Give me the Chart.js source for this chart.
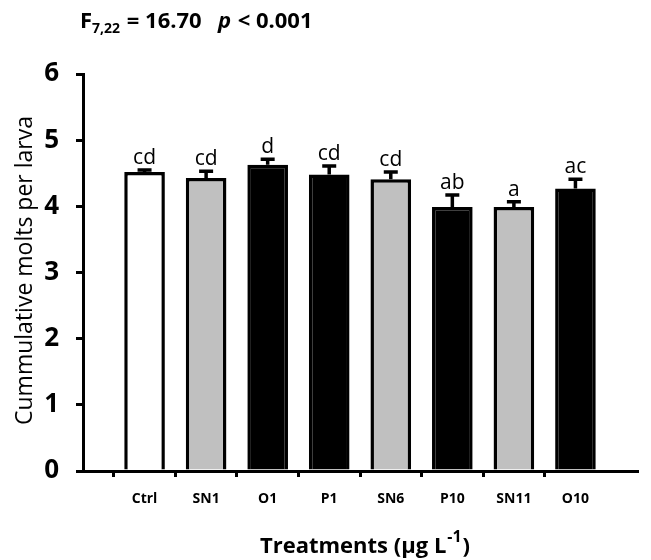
<!DOCTYPE html>
<html>
<head>
<meta charset="utf-8">
<script src="https://cdn.jsdelivr.net/npm/chart.js@4/dist/chart.umd.min.js"></script>
<style>
  html, body { margin: 0; padding: 0; background: #fff; }
  #wrap { width: 651px; height: 560px; }
</style>
</head>
<body>
<div id="wrap"><canvas id="molts" width="651" height="560"></canvas></div>
<script>
// Datos
const categories = ['Ctrl', 'SN1', 'O1', 'P1', 'SN6', 'P10', 'SN11', 'O10'];
const means = [4.52, 4.43, 4.63, 4.48, 4.41, 3.99, 3.99, 4.27];
const errors = [0.03, 0.10, 0.08, 0.13, 0.11, 0.18, 0.08, 0.14];
const letters = ['cd', 'cd', 'd', 'cd', 'cd', 'ab', 'a', 'ac'];
const fills = ['#ffffff', '#c0c0c0', '#000000', '#000000', '#c0c0c0', '#000000', '#c0c0c0', '#000000'];
const yTicks = [0, 1, 2, 3, 4, 5, 6];

const FONT = '"Open Sans", "Noto Sans", sans-serif';

// se añade un hueco vacío a cada lado, como en el original
const labels = ['', ...categories, ''];
const values = [null, ...means, null];
const colors = ['#fff', ...fills, '#fff'];

// Barras de error, letras y títulos
const extrasPlugin = {
    id: 'extras',
    afterDatasetsDraw(chart) {
        const ctx = chart.ctx;
        const x = chart.scales.x;
        const y = chart.scales.y;

        ctx.save();
        ctx.strokeStyle = '#000';
        ctx.lineWidth = 3.5;
        categories.forEach((c, i) => {
            const px = x.getPixelForValue(i + 1);
            const top = y.getPixelForValue(means[i]);
            const eTop = y.getPixelForValue(means[i] + errors[i]);
            ctx.beginPath();
            ctx.moveTo(px, top);
            ctx.lineTo(px, eTop);
            ctx.moveTo(px - 7, eTop);
            ctx.lineTo(px + 7, eTop);
            ctx.stroke();

            ctx.fillStyle = '#000';
            ctx.font = '21px ' + FONT;
            ctx.textAlign = 'center';
            ctx.textBaseline = 'alphabetic';
            ctx.fillText(letters[i], px, eTop - 6);
        });

        // título del eje Y
        ctx.font = '23px ' + FONT;
        ctx.textAlign = 'center';
        ctx.textBaseline = 'middle';
        ctx.translate(25, (chart.chartArea.top + chart.chartArea.bottom) / 2 - 2);
        ctx.rotate(-Math.PI / 2);
        ctx.fillText('Cummulative molts per larva', 0, 0);
        ctx.setTransform(1, 0, 0, 1, 0, 0);

        // título del eje X con superíndice
        ctx.textAlign = 'left';
        ctx.textBaseline = 'alphabetic';
        const main = 'Treatments (\u00b5g L';
        ctx.font = 'bold 22px ' + FONT;
        const w1 = ctx.measureText(main).width;
        ctx.font = 'bold 16px ' + FONT;
        const w2 = ctx.measureText('-1').width;
        ctx.font = 'bold 22px ' + FONT;
        const w3 = ctx.measureText(')').width;
        let sx = 364 - (w1 + w2 + w3) / 2;
        const base = 553;
        ctx.fillText(main, sx, base);
        ctx.font = 'bold 16px ' + FONT;
        ctx.fillText('-1', sx + w1 + 1, base - 11);
        ctx.font = 'bold 22px ' + FONT;
        ctx.fillText(')', sx + w1 + w2 + 2, base);

        // estadístico en la parte superior
        let tx = 80;
        const tb = 28;
        ctx.font = 'bold 22px ' + FONT;
        ctx.fillText('F', tx, tb);
        tx += ctx.measureText('F').width;
        ctx.font = 'bold 14px ' + FONT;
        ctx.fillText('7,22', tx, tb + 5);
        tx += ctx.measureText('7,22').width + 1;
        ctx.font = 'bold 22px ' + FONT;
        ctx.fillText(' = 16.70', tx, tb);
        ctx.font = 'bold italic 22px ' + FONT;
        ctx.fillText('p', 218, tb);
        ctx.font = 'bold 22px ' + FONT;
        ctx.fillText(' < 0.001', 218 + ctx.measureText('p').width, tb);
        ctx.restore();
    }
};

function initMoltsChart() {
    const el = document.getElementById('molts');
    new Chart(el.getContext('2d'), {
        type: 'bar',
        data: {
            labels: labels,
            datasets: [{
                data: values,
                backgroundColor: colors,
                borderColor: '#000',
                borderWidth: 3.5,
                borderSkipped: 'bottom',
                barPercentage: 0.66,
                categoryPercentage: 1
            }]
        },
        options: {
            responsive: false,
            animation: false,
            devicePixelRatio: 1,
            layout: { padding: { top: 74, right: 8, left: 0, bottom: 0 } },
            plugins: {
                legend: { display: false },
                tooltip: { enabled: false }
            },
            scales: {
                x: {
                    offset: false,
                    afterFit: s => { s.height = 89; },
                    border: { display: true, color: '#000', width: 3 },
                    grid: {
                        drawOnChartArea: false,
                        drawTicks: true,
                        tickLength: 6,
                        lineWidth: 3,
                        color: c => (c.index === 0 || c.index === labels.length - 1) ? 'rgba(0,0,0,0)' : '#000'
                    },
                    ticks: {
                        color: '#000',
                        padding: 14,
                        maxRotation: 0,
                        autoSkip: false,
                        font: { family: FONT, size: 14, weight: 'bold' }
                    }
                },
                y: {
                    min: 0,
                    max: 6,
                    afterFit: s => { s.width = 83; },
                    afterBuildTicks: s => { s.ticks = yTicks.map(v => ({ value: v })); },
                    border: { display: true, color: '#000', width: 3 },
                    grid: {
                        drawOnChartArea: false,
                        drawTicks: true,
                        tickLength: 7,
                        lineWidth: 3,
                        color: '#000'
                    },
                    ticks: {
                        color: '#000',
                        padding: 17,
                        font: { family: FONT, size: 26, weight: 'bold' }
                    }
                }
            }
        },
        plugins: [extrasPlugin]
    });
}

document.addEventListener('DOMContentLoaded', initMoltsChart);
</script>
</body>
</html>
